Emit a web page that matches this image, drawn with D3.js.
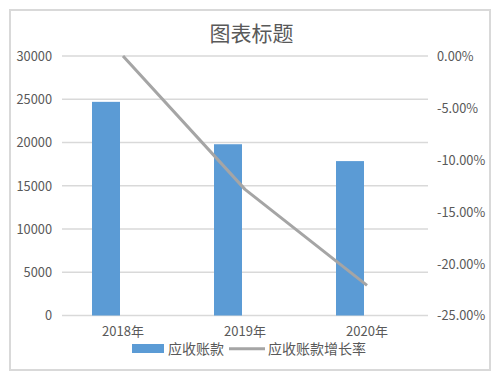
<!DOCTYPE html>
<html><head><meta charset="utf-8">
<script src="https://cdn.jsdelivr.net/npm/d3@7"></script>
<style>
body{margin:0;background:#fff;}
svg{display:block;}
text{font-family:"Noto Sans CJK SC","Noto Sans",sans-serif;fill:#595959;}
</style></head>
<body>
<svg id="c" width="499" height="378"></svg>
<script>
const categories = ["2018年","2019年","2020年"];
const receivables = [24700, 19800, 17850];
const growthRate = [0, -0.1285, -0.221];
const leftTicks = [0,5000,10000,15000,20000,25000,30000];
const rightTicks = [0,-0.05,-0.10,-0.15,-0.20,-0.25];
const title = "图表标题";
const seriesNames = ["应收账款","应收账款增长率"];

const svg = d3.select("#c");
svg.append("rect").attr("x",10).attr("y",10).attr("width",480).attr("height",360)
  .attr("fill","#fff").attr("stroke","#d9d9d9").attr("stroke-width",2);

const L = 62, R = 428, T = 56, B = 315.5;
const x = d3.scaleBand().domain(categories).range([L,R]);
const yL = d3.scaleLinear().domain([0,30000]).range([B,T]);
const yR = d3.scaleLinear().domain([-0.25,0]).range([B,T]);

// gridlines
svg.append("g").selectAll("line").data(leftTicks).join("line")
  .attr("x1",L).attr("x2",R).attr("y1",d=>yL(d)).attr("y2",d=>yL(d))
  .attr("stroke","#d9d9d9").attr("stroke-width",1.5);

// left axis
const ga = svg.append("g").attr("transform",`translate(${L-10},0)`)
  .call(d3.axisLeft(yL).tickValues(leftTicks).tickSize(0).tickFormat(d3.format("d")));
ga.select(".domain").remove();
ga.selectAll("text").attr("font-size",12.8).attr("fill","#595959").attr("dy","0.35em").attr("x",0);

// right axis
const gr = svg.append("g").attr("transform",`translate(${R+9},0)`)
  .call(d3.axisRight(yR).tickValues(rightTicks).tickSize(0));
gr.select(".domain").remove();
gr.selectAll("text").attr("font-size",12.8).attr("fill","#595959").attr("x",0).attr("dy","0.35em")
  .text(d=> d===0 ? "0.00%" : d3.format(".2%")(d).replace("−","-"));

// x axis labels
const gx = svg.append("g").attr("transform",`translate(0,${B})`)
  .call(d3.axisBottom(x).tickSize(0));
gx.select(".domain").remove();
gx.selectAll("text").attr("font-size",13).attr("fill","#595959").attr("y",11.5).attr("dy","0.71em");

// bars
const bw = 28, off = -17;
svg.append("g").selectAll("rect").data(categories).join("rect")
  .attr("x",(d)=>x(d)+x.bandwidth()/2+off-bw/2)
  .attr("width",bw)
  .attr("y",(d,i)=>yL(receivables[i]))
  .attr("height",(d,i)=>yL(0)-yL(receivables[i]))
  .attr("fill","#5b9bd5");

// line
const line = d3.line().x((d,i)=>x(categories[i])+x.bandwidth()/2).y(d=>yR(d));
svg.append("path").datum(growthRate).attr("d",line)
  .attr("fill","none").attr("stroke","#a5a5a5").attr("stroke-width",3).attr("stroke-linejoin","round");

// title
svg.append("text").attr("x",251.5).attr("y",41).attr("text-anchor","middle")
  .attr("font-size",21).text(title);

// legend
const lg = svg.append("g");
lg.append("rect").attr("x",132).attr("y",344).attr("width",32).attr("height",9).attr("fill","#5b9bd5");
lg.append("text").attr("x",168).attr("y",354).attr("font-size",14).text(seriesNames[0]);
lg.append("line").attr("x1",229).attr("x2",265).attr("y1",348.7).attr("y2",348.7)
  .attr("stroke","#a5a5a5").attr("stroke-width",3);
lg.append("text").attr("x",268).attr("y",354).attr("font-size",14).text(seriesNames[1]);
</script>
</body></html>
